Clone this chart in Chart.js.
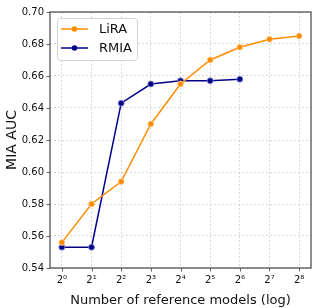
<!DOCTYPE html>
<html>
<head>
<meta charset="utf-8">
<script src="https://cdn.jsdelivr.net/npm/chart.js@4"></script>
<style>
  html, body { margin: 0; padding: 0; background: #fff; }
  #wrap { width: 318px; height: 308px; }
</style>
</head>
<body>
<div id="wrap"><canvas id="aucChart" width="318" height="308"></canvas></div>
<script>
const xExponents = [0, 1, 2, 3, 4, 5, 6, 7, 8];
const xTickLabels = ['2⁰', '2¹', '2²', '2³', '2⁴', '2⁵', '2⁶', '2⁷', '2⁸'];
const yTicks = [0.54, 0.56, 0.58, 0.60, 0.62, 0.64, 0.66, 0.68, 0.70];
const liraAuc = [0.556, 0.580, 0.594, 0.630, 0.655, 0.670, 0.678, 0.683, 0.685];
const rmiaAuc = [0.553, 0.553, 0.643, 0.655, 0.657, 0.657, 0.658];

const FONT = 'DejaVu Sans';
const toPoints = (vals) => vals.map((v, i) => ({ x: xExponents[i], y: v }));

// frame, tick marks and the legend box, matplotlib style
const framePlugin = {
  id: 'frame',
  afterDatasetsDraw(chart) {
    const { ctx, chartArea: a, scales } = chart;
    ctx.save();
    ctx.strokeStyle = '#444';
    ctx.lineWidth = 1.2;
    ctx.strokeRect(a.left, a.top, a.right - a.left, a.bottom - a.top);
    ctx.lineWidth = 0.8;
    ctx.beginPath();
    xExponents.forEach(v => {
      const px = Math.round(scales.x.getPixelForValue(v)) + 0.5;
      ctx.moveTo(px, a.bottom); ctx.lineTo(px, a.bottom + 3.5);
    });
    yTicks.forEach(v => {
      const py = Math.round(scales.y.getPixelForValue(v)) + 0.5;
      ctx.moveTo(a.left, py); ctx.lineTo(a.left - 3.5, py);
    });
    ctx.stroke();

    // legend
    const bx = a.left + 7, by = a.top + 6, bw = 80, bh = 42;
    ctx.fillStyle = 'rgba(255,255,255,0.85)';
    ctx.strokeStyle = '#d4d4d4';
    ctx.lineWidth = 1;
    ctx.beginPath();
    ctx.roundRect(bx + 0.5, by + 0.5, bw, bh, 3);
    ctx.fill(); ctx.stroke();
    chart.data.datasets.forEach((ds, i) => {
      const cy = by + 11 + i * 19;
      ctx.strokeStyle = ds.borderColor;
      ctx.lineWidth = 1.5;
      ctx.beginPath();
      ctx.moveTo(bx + 4, cy); ctx.lineTo(bx + 31, cy);
      ctx.stroke();
      ctx.fillStyle = ds.borderColor;
      ctx.beginPath();
      ctx.arc(bx + 17.5, cy, 2.8, 0, Math.PI * 2);
      ctx.fill();
      ctx.fillStyle = '#111';
      ctx.font = '13px "' + FONT + '"';
      ctx.textBaseline = 'middle';
      ctx.fillText(ds.label, bx + 42, cy + 1);
    });
    ctx.restore();
  }
};

new Chart(document.getElementById('aucChart').getContext('2d'), {
  type: 'line',
  data: {
    datasets: [
      {
        label: 'LiRA',
        data: toPoints(liraAuc),
        borderColor: '#ff8c00',
        backgroundColor: '#ff8c00',
        pointBorderColor: '#ffd9a8',
        pointBorderWidth: 0.8,
        pointRadius: 3,
        borderWidth: 1.5,
        fill: false,
        tension: 0
      },
      {
        label: 'RMIA',
        data: toPoints(rmiaAuc),
        borderColor: '#00008b',
        backgroundColor: '#00008b',
        pointBorderColor: '#8f8fd0',
        pointBorderWidth: 0.8,
        pointRadius: 3,
        borderWidth: 1.5,
        fill: false,
        tension: 0
      }
    ]
  },
  options: {
    responsive: false,
    animation: false,
    devicePixelRatio: 1,
    layout: { padding: { top: 10, right: 7, left: 0, bottom: 0 } },
    plugins: { legend: { display: false }, tooltip: { enabled: false } },
    scales: {
      x: {
        type: 'linear',
        min: -0.4,
        max: 8.4,
        afterBuildTicks: (s) => { s.ticks = xExponents.map(v => ({ value: v })); },
        afterFit: (s) => { s.height = 40; },
        grid: { color: '#d0d0d0', lineWidth: 0.8, drawTicks: false },
        border: { display: false, dash: [2, 2] },
        ticks: {
          padding: 6,
          maxRotation: 0,
          color: '#111',
          font: { family: FONT, size: 10 },
          callback: (v) => xTickLabels[xExponents.indexOf(v)]
        },
        title: {
          display: true,
          text: 'Number of reference models (log)',
          color: '#111',
          font: { family: FONT, size: 13 },
          padding: { top: 1, bottom: 0 }
        }
      },
      y: {
        min: 0.54,
        max: 0.70,
        afterBuildTicks: (s) => { s.ticks = yTicks.map(v => ({ value: v })); },
        afterFit: (s) => { s.width = 50; },
        grid: { color: '#d0d0d0', lineWidth: 0.8, drawTicks: false },
        border: { display: false, dash: [2, 2] },
        ticks: {
          padding: 6,
          color: '#111',
          font: { family: FONT, size: 10 },
          callback: (v) => v.toFixed(2)
        },
        title: {
          display: true,
          text: 'MIA AUC',
          color: '#111',
          font: { family: FONT, size: 14 },
          padding: { top: 4, bottom: 0 }
        }
      }
    }
  },
  plugins: [framePlugin]
});
</script>
</body>
</html>
